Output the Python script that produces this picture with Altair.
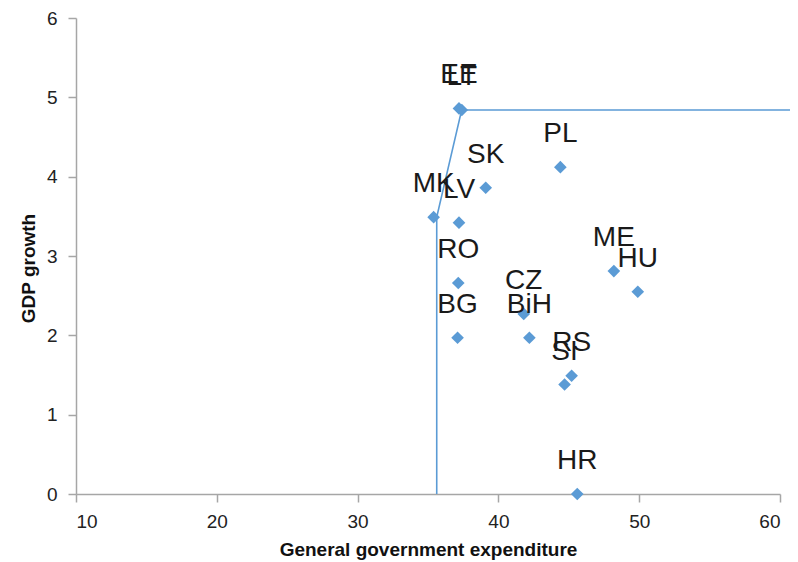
import altair as alt
import pandas as pd

countries = ["EE", "LT", "PL", "SK", "MK", "LV", "RO", "BG", "CZ", "BiH", "RS", "SI", "ME", "HU", "HR"]
expenditure = [37.2, 37.4, 44.4, 39.1, 35.4, 37.2, 37.15, 37.1, 41.8, 42.2, 45.2, 44.7, 48.2, 49.9, 45.6]
growth = [4.86, 4.84, 4.12, 3.86, 3.49, 3.42, 2.66, 1.97, 2.27, 1.97, 1.49, 1.38, 2.81, 2.55, 0.0]

frontier_x = [35.62, 35.62, 37.39, 62.0]
frontier_y = [0.0, 3.49, 4.84, 4.84]

pts = pd.DataFrame({"country": countries, "exp": expenditure, "gdp": growth})
fr = pd.DataFrame({"exp": frontier_x, "gdp": frontier_y, "ord": list(range(len(frontier_x)))})

BLUE = "#5b9bd5"
FONT = "Liberation Sans Narrow, Liberation Sans, Arial"

xscale = alt.Scale(domain=[10, 60], nice=False, zero=False)
yscale = alt.Scale(domain=[0, 6], nice=False)

xaxis = alt.Axis(values=[10, 20, 30, 40, 50, 60], format="d", title="General government expenditure",
                 grid=False, tickSize=8, labelPadding=10, titleY=55, titleBaseline="middle")
yaxis = alt.Axis(values=[0, 1, 2, 3, 4, 5, 6], format="d", title="GDP growth",
                 grid=False, tickSize=8, labelPadding=11, titleX=-48, titleY=250,
                 titleBaseline="middle")

line = alt.Chart(fr).mark_line(color=BLUE, strokeWidth=1.6, clip=False).encode(
    x=alt.X("exp:Q", scale=xscale, axis=xaxis),
    y=alt.Y("gdp:Q", scale=yscale, axis=yaxis),
    order="ord:Q",
)

points = alt.Chart(pts).mark_point(shape="diamond", filled=True, size=160, color=BLUE, opacity=1).encode(
    x=alt.X("exp:Q", scale=xscale),
    y=alt.Y("gdp:Q", scale=yscale),
)

labels = alt.Chart(pts).mark_text(dy=-25, baseline="alphabetic", align="center",
                                  font=FONT, fontSize=28, color="#1a1a1a").encode(
    x=alt.X("exp:Q", scale=xscale),
    y=alt.Y("gdp:Q", scale=yscale),
    text="country:N",
)

chart = alt.layer(line, points, labels).properties(
    width=704, height=476,
    autosize=alt.AutoSizeParams(type="none"),
    padding={"left": 68, "top": 10, "right": 10, "bottom": 68},
).configure_view(stroke=None).configure_axis(
    domainColor="#a6a6a6", domainWidth=1.5, tickColor="#a6a6a6", tickWidth=1.5,
    labelFont=FONT, labelFontSize=19, labelColor="#222222",
    titleFont=FONT, titleFontSize=19, titleFontWeight="bold",
    titleColor="#111111",
)

chart.save("out.html", embed_options={"renderer": "svg", "actions": False})
